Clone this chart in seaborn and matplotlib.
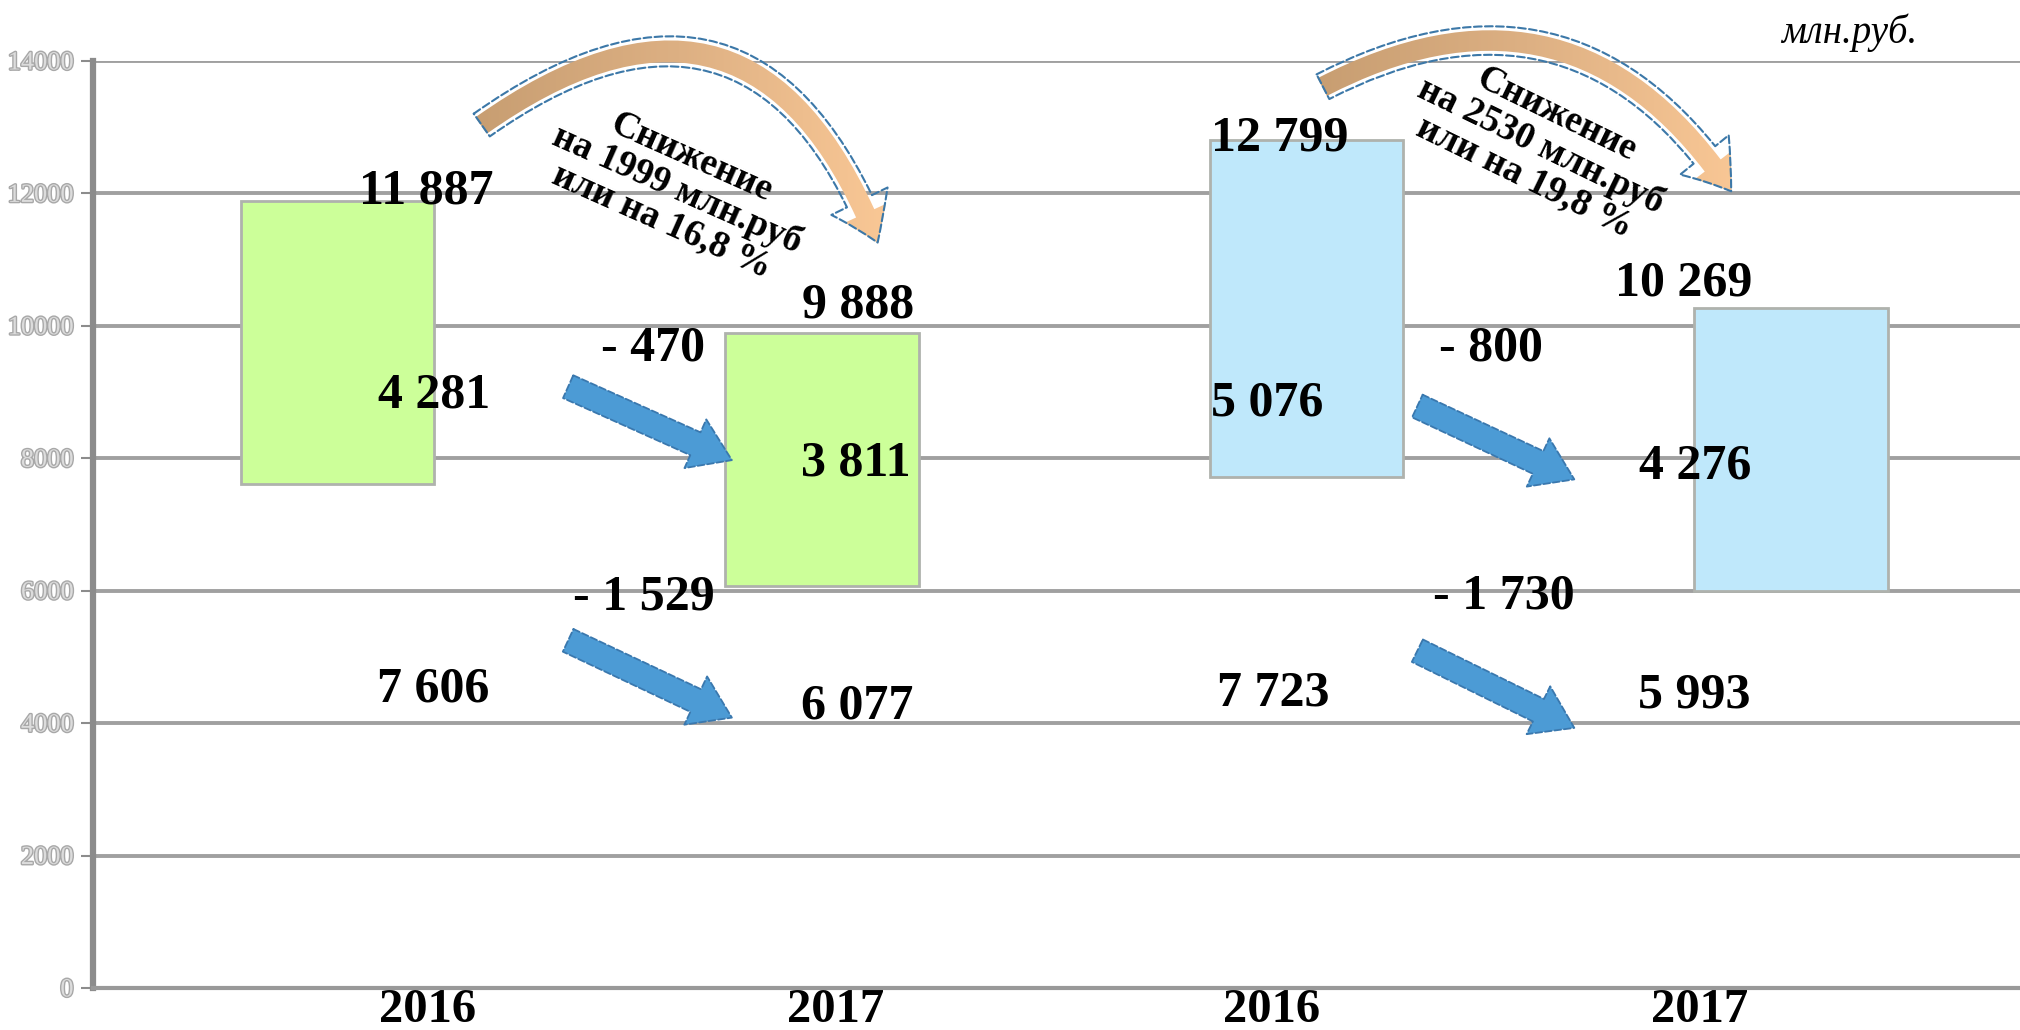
import numpy as np
import pandas as pd
import seaborn as sns
import matplotlib.pyplot as plt
import matplotlib.patheffects as pe
from matplotlib.patches import FancyArrowPatch
from matplotlib.colors import LinearSegmentedColormap

# data, mln rub
bar_names = ["2016 A", "2017 A", "2016 B", "2017 B"]
year_labels = ["2016", "2017", "2016", "2017"]
tops = [11887, 9888, 12799, 10269]
bottoms = [7606, 6077, 7723, 5993]
spans = [t - b for t, b in zip(tops, bottoms)]
change_top = [spans[1] - spans[0], spans[3] - spans[2]]
change_bottom = [bottoms[1] - bottoms[0], bottoms[3] - bottoms[2]]
drop_abs = [tops[0] - tops[1], tops[2] - tops[3]]
drop_pct = ["16,8", "19,8"]
bar_colors = ["#CCFF99", "#CCFF99", "#BFE8FB", "#BFE8FB"]

# layout (label anchors in data coords)
year_x = [0.186, 1.029, 1.928, 2.811]
top_lab = [(0.184, 12036), (1.074, 10306), (1.944, 12833), (2.779, 10636)]
mid_lab = [(0.2, 8944), (1.069, 7914), (1.918, 8828), (2.803, 7875)]
bot_lab = [(0.197, 4511), (1.072, 4258), (1.931, 4453), (2.801, 4414)]
chg_top_lab = [(0.652, 9664), (2.380, 9664)]
chg_bot_lab = [(0.633, 5892), (2.407, 5911)]
blue_arrows = [((0.476, 9081), (0.814, 7972)), ((0.476, 5250), (0.814, 4083)),
               ((2.229, 8789), (2.553, 7681)), ((2.229, 5094), (2.553, 3928))]
curve_arrows = [((0.293, 13008), (1.117, 11219)), ((2.029, 13592), (2.880, 11997))]
curve_rad = [-0.64, -0.45]
curve_text = [(0.70, 12060, -24), (2.483, 12720, -26)]


def fmt(v):
    s = f"{abs(v):,}".replace(",", " ")
    return "- " + s if v < 0 else s


serif = ["Liberation Serif", "DejaVu Serif"]

fig = plt.figure(figsize=(20.2, 10.3), dpi=100)
ax = fig.add_axes([0.046, 0.0408, 0.954, 0.900])

df = pd.DataFrame({"bar": bar_names, "top": tops})
sns.barplot(data=df, x="bar", y="top", hue="bar", palette=bar_colors,
            saturation=1, legend=False, width=0.4, ax=ax,
            edgecolor="#AFB2AD", linewidth=2, zorder=3)
# floating bars: move each bar to start at its bottom value
for p, b, t in zip(ax.patches, bottoms, tops):
    p.set_y(b)
    p.set_height(t - b)

# grid and axes
ax.set_yticks(range(0, 14001, 2000))
ax.set_yticklabels([str(v) for v in range(0, 14001, 2000)], family=serif,
                   fontsize=19, color="#dcdcdc",
                   path_effects=[pe.withStroke(linewidth=2, foreground="#a8a8a8")])
ax.yaxis.grid(True, color="#a0a0a0", lw=2.8, zorder=0)
ax.set_axisbelow(True)
for s in ["top", "right"]:
    ax.spines[s].set_visible(False)
ax.spines["left"].set_color("#8c8c8c")
ax.spines["left"].set_linewidth(4.5)
ax.spines["bottom"].set_color("#999999")
ax.spines["bottom"].set_linewidth(3)
ax.tick_params(axis="y", length=9, width=1.5, color="#8c8c8c", pad=5)
ax.set_xticks(year_x)
ax.set_xticklabels(year_labels, family=serif, fontsize=35, fontweight="bold")
ax.tick_params(axis="x", length=0, pad=0)
ax.set_xlabel("")
ax.set_ylabel("")

# value labels
txt = dict(family=serif, fontsize=36, fontweight="bold", ha="center",
           va="center", zorder=6)
for i in range(4):
    ax.text(*top_lab[i], fmt(tops[i]), **txt)
    ax.text(*mid_lab[i], fmt(spans[i]), **txt)
    ax.text(*bot_lab[i], fmt(bottoms[i]), **txt)
for j in range(2):
    ax.text(*chg_top_lab[j], fmt(change_top[j]), **txt)
    ax.text(*chg_bot_lab[j], fmt(change_bottom[j]), **txt)

# blue straight arrows
for start, end in blue_arrows:
    ax.annotate("", xy=end, xytext=start, zorder=5,
                arrowprops=dict(arrowstyle="simple,head_length=1.2,head_width=1.6,tail_width=0.75",
                                mutation_scale=24, fc="#4C9BD5", ec="#3A78AE",
                                ls="--", lw=1.3, shrinkA=0, shrinkB=0))

# curved arrows with tan -> peach gradient
cmap = LinearSegmentedColormap.from_list("tp", ["#C39A6E", "#DDB083", "#FFCC99"])
grad = np.linspace(0, 1, 256).reshape(1, -1)
for (start, end), rad, (tx, ty, rot), d, pct in zip(curve_arrows, curve_rad, curve_text,
                                                     drop_abs, drop_pct):
    arr = FancyArrowPatch(start, end, connectionstyle=f"arc3,rad={rad}",
                          arrowstyle="simple,head_length=1.3,head_width=1.8,tail_width=0.8",
                          mutation_scale=25, fc="none", ec="#3C78A8", ls="--",
                          lw=1.5, clip_on=False, zorder=6)
    ax.add_patch(arr)
    im = ax.imshow(grad, cmap=cmap, aspect="auto", zorder=5,
                   extent=[start[0] - 0.1, end[0] + 0.1, end[1] - 800, 15200])
    im.set_clip_path(arr)
    im.set_clip_box(fig.bbox)
    ax.text(tx, ty, f"Снижение\nна {d} млн.руб\nили на {pct} %", family=serif,
            fontsize=27, fontweight="bold", rotation=rot, rotation_mode="anchor",
            ha="center", va="center", multialignment="center", linespacing=1.0,
            zorder=7)

ax.text(3.12, 14428, "млн.руб.", family=serif, fontsize=28, style="italic",
        ha="center", va="center")

ax.set_xlim(-0.505, 3.473)
ax.set_ylim(0, 14000)

fig.savefig("out.png", dpi=100)
